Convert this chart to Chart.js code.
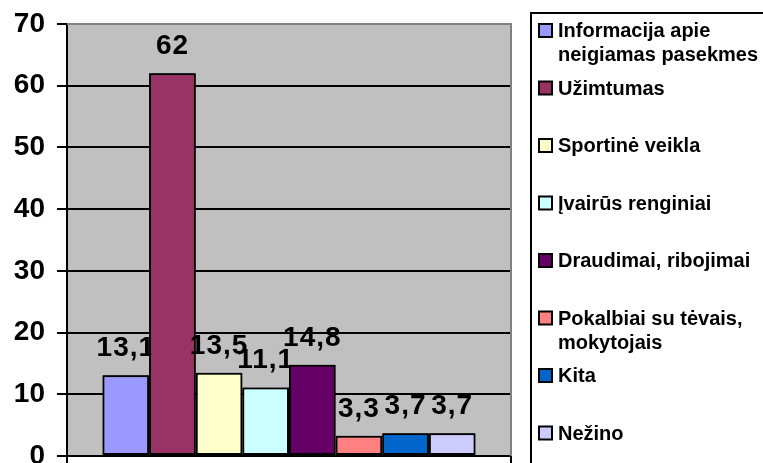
<!DOCTYPE html>
<html>
<head>
<meta charset="utf-8">
<script src="https://cdn.jsdelivr.net/npm/chart.js@4/dist/chart.umd.min.js"></script>
<style>
    html, body { margin: 0; padding: 0; background: #fff; }
    #wrap { width: 763px; height: 463px; position: relative; }
</style>
</head>
<body>
<div id="wrap"><canvas id="chart" width="763" height="463"></canvas></div>
<script>
// data
const categories = [
    'Informacija apie neigiamas pasekmes',
    'Užimtumas',
    'Sportinė veikla',
    'Įvairūs renginiai',
    'Draudimai, ribojimai',
    'Pokalbiai su tėvais, mokytojais',
    'Kita',
    'Nežino'
];
const values = [13.1, 62, 13.5, 11.1, 14.8, 3.3, 3.7, 3.7];
const colors = ['#9999FF', '#993366', '#FFFFCC', '#CCFFFF', '#660066', '#FF8080', '#0066CC', '#CCCCFF'];
const yTicks = [0, 10, 20, 30, 40, 50, 60, 70];

const FONT = '"Liberation Sans", Arial, sans-serif';

let datasets = categories.map((name, i) => ({
    label: name,
    data: [values[i]],
    backgroundColor: colors[i],
    borderColor: '#000',
    borderWidth: 2,
    borderSkipped: false,
    categoryPercentage: 0.84,
    barPercentage: 1.0
}));

// plot background + gray frame on top/right
const plotFrame = {
    id: 'plotFrame',
    beforeDraw (chart) {
        let {ctx, chartArea} = chart;
        ctx.save();
        ctx.fillStyle = '#C0C0C0';
        ctx.fillRect(chartArea.left, chartArea.top, chartArea.right - chartArea.left, chartArea.bottom - chartArea.top);
        ctx.restore();
    },
    beforeDatasetsDraw (chart) {
        let {ctx, chartArea} = chart;
        ctx.save();
        ctx.strokeStyle = '#808080';
        ctx.lineWidth = 2;
        ctx.beginPath();
        ctx.moveTo(chartArea.left, chartArea.top);
        ctx.lineTo(chartArea.right, chartArea.top);
        ctx.lineTo(chartArea.right, chartArea.bottom);
        ctx.stroke();
        ctx.restore();
    }
};

// value labels, drawn bar by bar so the next bar covers the previous label (as in Excel)
const barLabels = {
    id: 'barLabels',
    afterDatasetsDraw (chart) {
        let ctx = chart.ctx;
        ctx.save();
        ctx.font = 'bold 28px ' + FONT;
        ctx.letterSpacing = '1px';
        ctx.fillStyle = '#000';
        ctx.textAlign = 'center';
        ctx.textBaseline = 'alphabetic';
        chart.data.datasets.forEach((ds, i) => {
            let bar = chart.getDatasetMeta(i).data[0];
            bar.draw(ctx);
            let txt = String(ds.data[0]).replace('.', ',');
            ctx.fillText(txt, bar.x, bar.y - 19);
        });
        ctx.restore();
    }
};

// boxed legend on the right
const sideLegend = {
    id: 'sideLegend',
    afterDraw (chart) {
        let ctx = chart.ctx;
        ctx.save();
        ctx.strokeStyle = '#000';
        ctx.lineWidth = 2;
        ctx.strokeRect(531, 13, 300, 500);
        ctx.font = 'bold 20px ' + FONT;
        ctx.textBaseline = 'alphabetic';
        ctx.fillStyle = '#000';
        let maxW = 203;
        chart.data.datasets.forEach((ds, i) => {
            let base = 37 + i * 57.5;
            // swatch
            ctx.fillStyle = ds.backgroundColor;
            ctx.fillRect(539, base - 13, 13, 13);
            ctx.lineWidth = 2;
            ctx.strokeRect(539, base - 13, 13, 13);
            // wrap label
            let words = ds.label.split(' ');
            let lines = [];
            let cur = '';
            words.forEach(w => {
                let test = cur ? cur + ' ' + w : w;
                if (ctx.measureText(test).width > maxW && cur) {
                    lines.push(cur);
                    cur = w;
                } else {
                    cur = test;
                }
            });
            lines.push(cur);
            ctx.fillStyle = '#000';
            lines.forEach((ln, k) => {
                ctx.fillText(ln, 558, base + k * 24);
            });
        });
        ctx.restore();
    }
};

let ctx = document.getElementById('chart');
let myBarChart = new Chart(ctx, {
    type: 'bar',
    data: {
        labels: [''],
        datasets: datasets
    },
    options: {
        responsive: false,
        animation: false,
        layout: {
            padding: {left: 0, top: 24, right: 252, bottom: 0}
        },
        plugins: {
            legend: {display: false},
            tooltip: {enabled: false}
        },
        scales: {
            x: {
                offset: true,
                grid: {
                    display: true,
                    offset: true,
                    drawOnChartArea: false,
                    drawTicks: true,
                    tickLength: 8,
                    color: '#000',
                    lineWidth: 2
                },
                border: {color: '#000', width: 2},
                ticks: {display: false},
                afterFit (scale) {
                    scale.height = 7;
                    scale.paddingLeft = 0;
                    scale.paddingRight = 0;
                }
            },
            y: {
                min: 0,
                max: 70,
                afterBuildTicks (scale) {
                    scale.ticks = yTicks.map(v => ({value: v}));
                },
                grid: {
                    color: c => (c.tick && c.tick.value === 70) ? '#808080' : '#000',
                    tickColor: '#000',
                    lineWidth: 2,
                    tickLength: 10
                },
                border: {color: '#000', width: 2},
                ticks: {
                    padding: 12,
                    color: '#000',
                    font: {family: FONT, size: 28, weight: 'bold'}
                },
                afterFit (scale) {
                    scale.width = 67;
                    scale.paddingTop = 0;
                    scale.paddingBottom = 0;
                }
            }
        }
    },
    plugins: [plotFrame, barLabels, sideLegend]
});
</script>
</body>
</html>
